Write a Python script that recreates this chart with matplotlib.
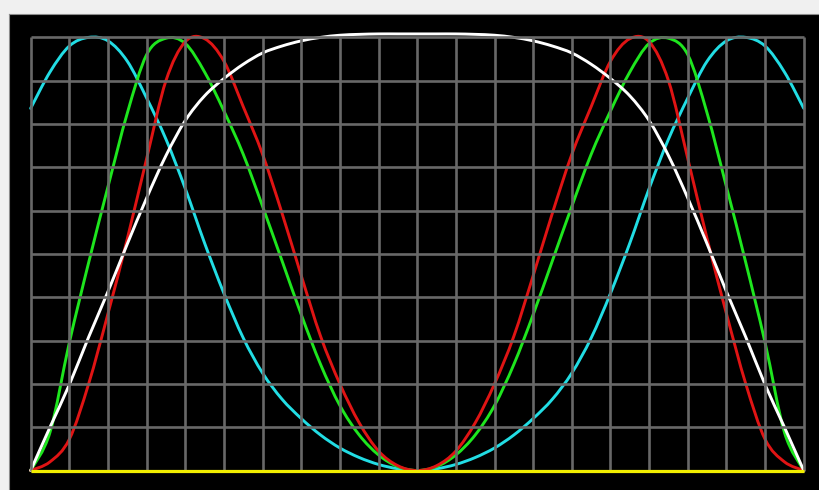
import matplotlib
matplotlib.use("Agg")
import matplotlib.pyplot as plt
from matplotlib.path import Path
from matplotlib.patches import PathPatch
import numpy as np

# sample positions along the 20 grid columns (every half column)
x_pos = np.arange(41) * 0.5

# values, in grid rows (0..10)
white_vals = [0, 1.0, 1.98, 3.08, 4.13, 5.23, 6.29, 7.27, 8.08, 8.65, 9.05,
              9.38, 9.64, 9.8, 9.92, 10.0, 10.05, 10.07, 10.08, 10.08, 10.08,
              10.08, 10.08, 10.07, 10.05, 10.0, 9.92, 9.8, 9.64, 9.38, 9.05,
              8.65, 8.08, 7.27, 6.29, 5.23, 4.13, 3.08, 1.98, 1.0, 0]
cyan_vals = [8.36, 9.2, 9.8, 10.0, 9.92, 9.45, 8.6, 7.65, 6.51, 5.25, 4.09,
             3.06, 2.25, 1.65, 1.2, 0.82, 0.52, 0.3, 0.14, 0.04, 0,
             0.04, 0.14, 0.3, 0.52, 0.82, 1.2, 1.65, 2.25, 3.06, 4.09,
             5.25, 6.51, 7.65, 8.6, 9.45, 9.92, 10.0, 9.8, 9.2, 8.36]
green_vals = [0, 0.88, 2.95, 4.8, 6.55, 8.25, 9.6, 9.98, 9.86, 9.2, 8.3,
              7.3, 6.1, 4.85, 3.6, 2.45, 1.5, 0.82, 0.36, 0.09, 0,
              0.09, 0.36, 0.82, 1.5, 2.45, 3.6, 4.85, 6.1, 7.3, 8.3,
              9.2, 9.86, 9.98, 9.6, 8.25, 6.55, 4.8, 2.95, 0.88, 0]
red_vals = [0, 0.2, 0.72, 2.0, 3.62, 5.35, 7.2, 9.0, 9.9, 9.97, 9.45,
            8.4, 7.3, 5.95, 4.5, 3.1, 2.0, 1.1, 0.45, 0.11, 0,
            0.11, 0.45, 1.1, 2.0, 3.1, 4.5, 5.95, 7.3, 8.4, 9.45,
            9.97, 9.9, 9.0, 7.2, 5.35, 3.62, 2.0, 0.72, 0.2, 0]

n_cols = 20
n_rows = 10


def smooth_trace(ax, xs, ys, color, lw=2.1):
    """Draw a Catmull-Rom style smooth curve through the points (as Bezier path)"""
    pts = np.column_stack([xs, ys]).astype(float)
    padded = np.vstack([pts[0], pts, pts[-1]])
    verts = [pts[0]]
    codes = [Path.MOVETO]
    for i in range(len(pts) - 1):
        p0, p1, p2, p3 = padded[i], padded[i + 1], padded[i + 2], padded[i + 3]
        verts += [p1 + (p2 - p0) / 6, p2 - (p3 - p1) / 6, p2]
        codes += [Path.CURVE4] * 3
    ax.add_patch(PathPatch(Path(verts, codes), fill=False, edgecolor=color,
                           lw=lw, capstyle='round', joinstyle='round'))


grid_col = '#686868'
fig = plt.figure(figsize=(8.2, 4.9), dpi=100, facecolor='#f0f0f0')
ax = fig.add_axes([9 / 820, 0, 811 / 820, 476 / 490])
ax.set_facecolor('black')

# scope graticule
for gx in range(n_cols + 1):
    ax.plot([gx, gx], [0, n_rows], color=grid_col, lw=1.9, solid_capstyle='butt')
for gy in range(n_rows + 1):
    ax.plot([0, n_cols], [gy, gy], color=grid_col, lw=1.9, solid_capstyle='butt')

ax.hlines(0, 0, n_cols, color='#f2ee00', lw=2.3)

smooth_trace(ax, x_pos, cyan_vals, '#22dde4')
smooth_trace(ax, x_pos, green_vals, '#1ee61e')
smooth_trace(ax, x_pos, red_vals, '#e01414')
smooth_trace(ax, x_pos, white_vals, 'white')

ax.set_xlim(-0.56, 20.42)
ax.set_ylim(-0.45, 10.54)
ax.set_xticks([])
ax.set_yticks([])
for side in ['right', 'bottom']:
    ax.spines[side].set_visible(False)
for side in ['left', 'top']:
    ax.spines[side].set_color('#8c8c8c')
    ax.spines[side].set_linewidth(0.8)

fig.savefig('out.png', dpi=100, facecolor=fig.get_facecolor())
